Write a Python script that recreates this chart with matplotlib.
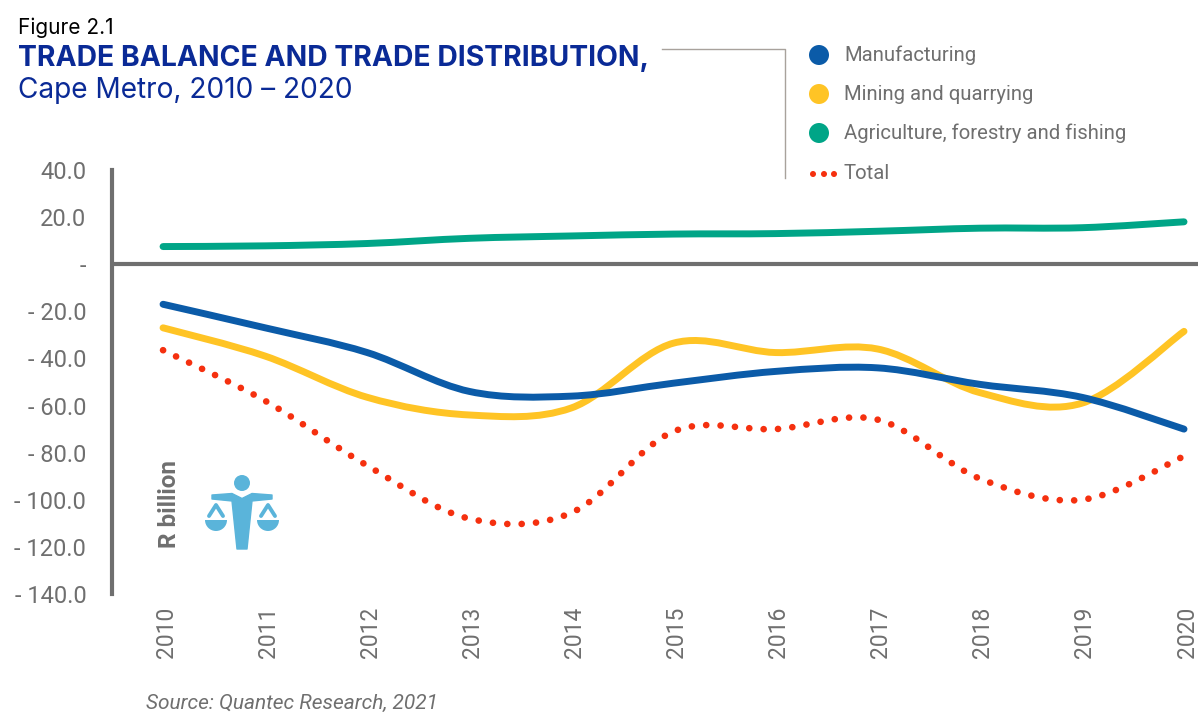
import matplotlib
matplotlib.use('Agg')
import matplotlib.pyplot as plt
from matplotlib.path import Path
from matplotlib.patches import PathPatch, Circle, Wedge, Polygon
from matplotlib.lines import Line2D
from matplotlib.transforms import ScaledTranslation

years = [2010, 2011, 2012, 2013, 2014, 2015, 2016, 2017, 2018, 2019, 2020]
manufacturing = [-17, -27, -37.5, -54, -56, -50.5, -45.5, -44, -51, -56.5, -70]
mining = [-27, -39, -56.5, -64, -61, -33.5, -37.5, -36, -54.5, -59, -28.5]
agriculture = [7.5, 7.8, 8.8, 11, 12, 12.8, 13, 14, 15.3, 15.5, 18]
total = [-36.5, -58, -85.5, -108, -105.5, -71, -70, -66, -91, -100, -81.5]
y_ticks = [40, 20, 0, -20, -40, -60, -80, -100, -120, -140]
y_labels = ['40.0', '20.0', '-', '- 20.0', '- 40.0', '- 60.0', '- 80.0', '- 100.0', '- 120.0', '- 140.0']

W, H = 1198, 713
BLUE = '#0b5ba8'
YELLOW = '#ffc425'
GREEN = '#00a587'
RED = '#f5300f'
GREY = '#6f6f6f'
NAVY = '#0a2a96'
ICON = '#5ab4da'


# same kind of smoothed line a spreadsheet draws through yearly values
def smooth_path(xs, ys):
    verts = [(xs[0], ys[0])]
    codes = [Path.MOVETO]
    n = len(xs)
    for i in range(n - 1):
        x0, y0 = (xs[i - 1], ys[i - 1]) if i > 0 else (xs[i], ys[i])
        x1, y1 = xs[i], ys[i]
        x2, y2 = xs[i + 1], ys[i + 1]
        x3, y3 = (xs[i + 2], ys[i + 2]) if i < n - 2 else (x2, y2)
        verts += [(x1 + (x2 - x0) / 6, y1 + (y2 - y0) / 6),
                  (x2 - (x3 - x1) / 6, y2 - (y3 - y1) / 6),
                  (x2, y2)]
        codes += [Path.CURVE4] * 3
    return Path(verts, codes)


fig = plt.figure(figsize=(W / 100, H / 100), dpi=100, facecolor='white')
plt.rcParams['font.family'] = ['Roboto', 'DejaVu Sans']

ax = fig.add_axes([112 / W, 1 - 594 / H, (W - 112) / W, (594 - 170) / H])
ax.set_xlim(2009.5, 2020.137)
ax.set_ylim(-140, 40)
ax.patch.set_alpha(0)

for s in ['top', 'right', 'bottom']:
    ax.spines[s].set_visible(False)
ax.spines['left'].set_color(GREY)
ax.spines['left'].set_linewidth(3)
ax.axhline(0, color=GREY, lw=3, zorder=2)

ax.add_patch(PathPatch(smooth_path(years, agriculture), fc='none', ec=GREEN, lw=5, capstyle='round', zorder=3))
ax.add_patch(PathPatch(smooth_path(years, mining), fc='none', ec=YELLOW, lw=5, capstyle='round', zorder=3))
ax.add_patch(PathPatch(smooth_path(years, manufacturing), fc='none', ec=BLUE, lw=5, capstyle='round', zorder=4))
ax.add_patch(PathPatch(smooth_path(years, total), fc='none', ec=RED, lw=4.8, capstyle='round',
                       linestyle=(0, (0.01, 2.15)), zorder=4))

ax.set_yticks(y_ticks)
ax.set_yticklabels(y_labels, fontsize=17, color=GREY)
ax.set_xticks(years)
ax.set_xticklabels(years, fontsize=16.5, color=GREY, rotation=90)
ax.tick_params(axis='y', length=0, pad=18.5)
ax.tick_params(axis='x', length=0, pad=9)
for lab in ax.get_xticklabels():
    lab.set_transform(lab.get_transform() + ScaledTranslation(3 / 100, 0, fig.dpi_scale_trans))

# overlay in pixel coordinates for the header, legend and icon
ov = fig.add_axes([0, 0, 1, 1])
ov.set_xlim(0, W)
ov.set_ylim(H, 0)
ov.axis('off')
ov.patch.set_alpha(0)

ov.text(18, 28, 'Figure 2.1', fontsize=15, color='black', va='center', family=['Inter', 'DejaVu Sans'])
ov.text(18, 59, 'TRADE BALANCE AND TRADE DISTRIBUTION,', fontsize=20.4, color=NAVY, weight='bold',
        va='center', family=['Inter', 'DejaVu Sans'])
ov.text(18, 90, 'Cape Metro, 2010 \u2013 2020', fontsize=20.2, color=NAVY, va='center',
        family=['Inter', 'DejaVu Sans'])

ov.add_line(Line2D([662, 785, 785], [49, 49, 178], color='#a8a29c', lw=1))

legend_names = ['Manufacturing', 'Mining and quarrying', 'Agriculture, forestry and fishing', 'Total']
legend_colors = [BLUE, YELLOW, GREEN]
legend_y = [55, 94, 133, 173]
for name, ly in zip(legend_names, legend_y):
    ov.text(844, ly + 0.5, name, fontsize=14.6, color=GREY, va='center')
for c, ly in zip(legend_colors, legend_y):
    ov.add_patch(Circle((819, ly), 10, fc=c, ec='none'))
for dx in [813, 824, 834]:
    ov.add_patch(Circle((dx, 174), 3, fc=RED, ec='none'))

ov.text(169, 504, 'R billion', fontsize=17.5, color=GREY, weight='bold', rotation=90, ha='center', va='center')

# scales icon
ov.add_patch(Circle((242, 483), 8, fc=ICON, ec='none'))
ov.add_patch(Polygon([(212, 495), (232, 493.5), (242, 498.5), (252, 493.5), (272, 495), (272, 499),
                      (252, 501), (247, 549), (237, 549), (232, 501), (212, 499)],
                     closed=True, fc=ICON, ec=ICON, lw=1, joinstyle='round'))
for cx in [216, 268]:
    ov.add_line(Line2D([cx - 7, cx, cx + 7], [516, 505, 516], color=ICON, lw=2.8, solid_capstyle='round'))
    ov.add_patch(Wedge((cx, 520), 11, 0, 180, fc=ICON, ec='none'))

ov.text(146, 703, 'Source: Quantec Research, 2021', fontsize=15, color=GREY, style='italic', va='center')

fig.savefig('out.png', dpi=100, facecolor='white')
